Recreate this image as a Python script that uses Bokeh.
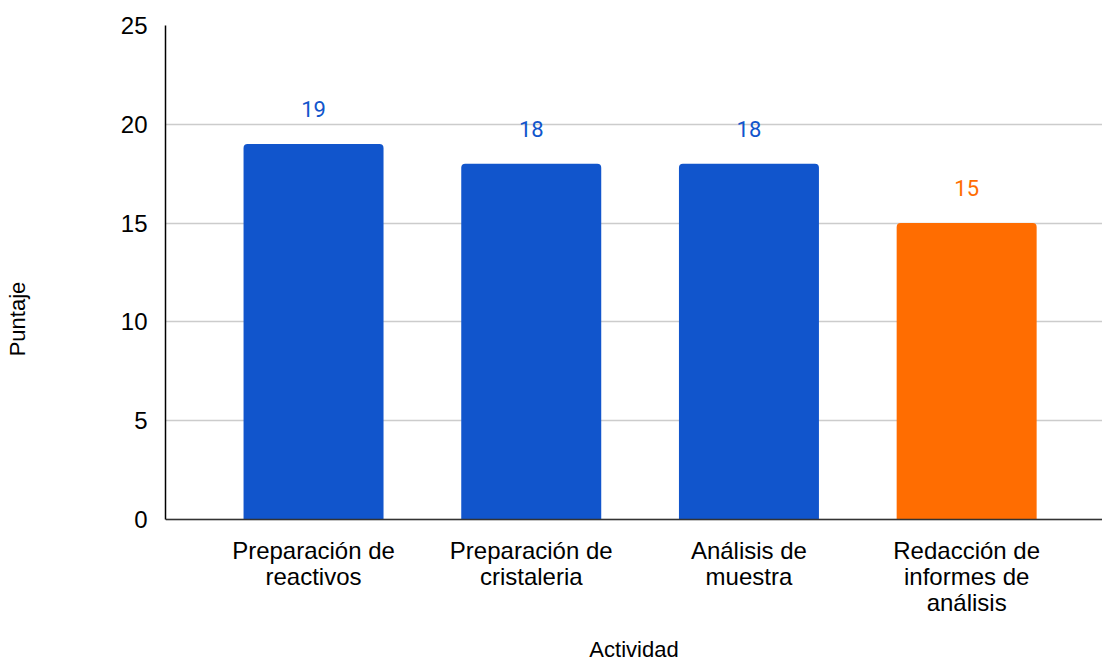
from bokeh.plotting import figure
from bokeh.models import ColumnDataSource, FixedTicker, Range1d, LinearAxis
from bokeh.core.properties import value
from bokeh.embed import file_html
from bokeh.resources import INLINE

# Puntaje por actividad
actividades = [
    "Preparación de\nreactivos",
    "Preparación de\ncristaleria",
    "Análisis de\nmuestra",
    "Redacción de\ninformes de\nanálisis",
]
puntajes = [19, 18, 18, 15]
colores = ["#1155cc", "#1155cc", "#1155cc", "#ff6d01"]
y_ticks = [0, 5, 10, 15, 20, 25]

pos = list(range(len(actividades)))
src = ColumnDataSource(dict(
    x=pos,
    top=puntajes,
    color=colores,
    label=[str(v) for v in puntajes],
))

# the frame runs below y=0 so the category labels sit inside it
p = figure(
    width=1102, height=664,
    output_backend="svg", toolbar_location=None,
    x_range=Range1d(-0.68, 3.624), y_range=Range1d(-4.707, 25),
    x_axis_location=None,
    min_border_left=165, min_border_right=0,
    min_border_top=25, min_border_bottom=52,
)
p.outline_line_color = None
p.background_fill_color = "white"
p.border_fill_color = "white"

p.vbar(x="x", top="top", width=0.643, bottom=0, color="color",
       line_color=None, border_radius=(4, 4, 0, 0), source=src)

p.text(x="x", y="top", text="label", text_color="color",
       text_font=value("Roboto"), text_font_size="22px",
       text_align="center", text_baseline="alphabetic",
       y_offset=-35, source=src)

# eje vertical
p.yaxis.ticker = FixedTicker(ticks=y_ticks)
p.yaxis.bounds = (0, 25)
p.yaxis.major_tick_line_color = None
p.yaxis.minor_tick_line_color = None
p.yaxis.axis_line_color = "#000000"
p.yaxis.axis_line_width = 1.5
p.yaxis.major_label_text_font = "Liberation Sans"
p.yaxis.major_label_text_font_size = "24px"
p.yaxis.major_label_text_color = "#000000"
p.yaxis.major_label_standoff = 12
p.yaxis.axis_label = "Puntaje"
p.yaxis.axis_label_text_font = "Liberation Sans"
p.yaxis.axis_label_text_font_size = "22px"
p.yaxis.axis_label_text_font_style = "normal"
p.yaxis.axis_label_text_color = "#000000"
p.yaxis.axis_label_standoff = 88

# eje de categorías sobre y = 0
xaxis = LinearAxis(
    fixed_location=0,
    ticker=FixedTicker(ticks=pos),
    major_label_overrides={i: a for i, a in zip(pos, actividades)},
    major_tick_line_color=None,
    minor_tick_line_color=None,
    axis_line_color="#333333",
    axis_line_width=1.5,
    major_label_text_font="Liberation Sans",
    major_label_text_font_size="24px",
    major_label_text_color="#000000",
    major_label_text_line_height=0.96,
    major_label_standoff=12,
)
p.add_layout(xaxis, "below")

# título del eje horizontal
title_axis = LinearAxis(
    ticker=FixedTicker(ticks=[]),
    axis_line_color=None,
    major_tick_line_color=None,
    minor_tick_line_color=None,
    major_label_standoff=0,
    axis_label="Actividad",
    axis_label_text_font="Liberation Sans",
    axis_label_text_font_size="22px",
    axis_label_text_font_style="normal",
    axis_label_text_color="#000000",
    axis_label_standoff=24,
)
p.add_layout(title_axis, "below")

p.xgrid.grid_line_color = None
p.ygrid.ticker = FixedTicker(ticks=y_ticks)
p.ygrid.grid_line_color = "#cccccc"
p.ygrid.grid_line_width = 1.5

open("out.html", "w").write(file_html(p, INLINE))
